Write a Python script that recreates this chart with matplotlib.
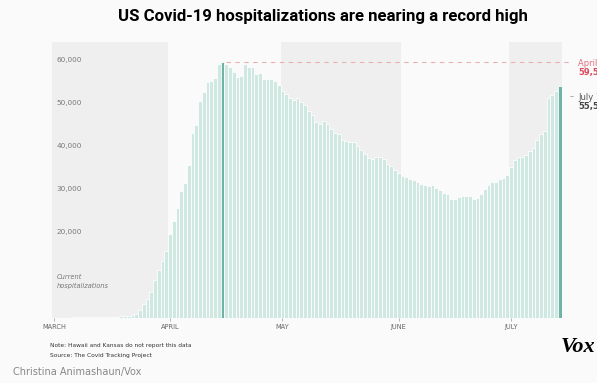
import matplotlib
matplotlib.use('Agg')
from matplotlib import pyplot as plt
from matplotlib import transforms

# current hospitalizations per day, March 1 to July 14
hospitalized = [
    0, 0, 0, 0, 0, 20, 30, 40, 50, 60, 70, 80, 100, 120, 140, 160, 190, 220, 260, 300,
    350, 550, 900, 1700, 3100, 4300, 6000, 8800, 11000, 13200,
    15600, 19500, 22500, 25500, 29500, 31300, 35500, 43100, 44900, 50500,
    52500, 54800, 55100, 55900, 59000, 59500, 59100, 58500, 57200, 56000,
    56400, 59200, 58500, 58300, 56800, 56900, 55600, 55600, 55600, 55100,
    54300, 52900, 52200, 51200, 50800, 51200, 50300, 49600, 48200, 47100,
    45500, 45100, 45700, 45000, 43900, 43000, 42800, 41300, 41200, 41000,
    40800, 40000, 39000, 38000, 37100, 37000, 37400, 37300, 36900, 35800,
    35200, 34400, 33700, 33100, 32800, 32300, 32000, 31600, 31100, 31000,
    30600, 30800, 30200, 29700, 29100, 28800, 27700, 27600, 28100, 28300,
    28400, 28300, 27600, 27800, 28800, 29900, 30900, 31500, 31700, 32200,
    32500, 33200, 35000, 36700, 37300, 37400, 37900, 38700, 39500, 41300,
    42700, 43500, 51200, 51900, 52700, 53900,
]
month_days = [0, 31, 61, 92, 122]
month_labels = ['MARCH', 'APRIL', 'MAY', 'JUNE', 'JULY']
y_ticks = [20000, 30000, 40000, 50000, 60000]
peak_day = 45
last_day = len(hospitalized) - 1

light = '#cfe8e2'
dark = '#6fb2a8'
grey = '#777777'

fig = plt.figure(figsize=(5.97, 3.83), dpi=100, facecolor='#fafafa')
ax = fig.add_axes([52 / 597, 1 - 317.5 / 383, 509.7 / 597, 275.5 / 383])
ax.set_facecolor('#fafafa')

# grey bands for every other month
for a, b in [(-0.5, 30.5), (60.5, 92.5), (121.5, 135.5)]:
    ax.axvspan(a, b, color='#efefef', lw=0, zorder=0)

colors = [light] * len(hospitalized)
colors[peak_day] = dark
colors[last_day] = dark
days = list(range(len(hospitalized)))
ax.bar(days, hospitalized, width=1.0, color=colors, edgecolor='white', linewidth=0.55, zorder=2)

# dashed line at the April record
ax.plot([peak_day + 0.8, 137.7], [hospitalized[peak_day]] * 2, ls=(0, (4, 4)), color='#eab0b6',
        lw=0.8, clip_on=False, zorder=3)

ax.set_xlim(-0.5, 135.5)
ax.set_ylim(0, 64220)
for s in ax.spines.values():
    s.set_visible(False)
ax.set_yticks([])
ax.set_xticks(month_days)
ax.set_xticklabels(month_labels, fontsize=4.8, color='#666666')
ax.tick_params(axis='x', length=2, width=0.5, color='#999999', pad=2.5)

trans = transforms.blended_transform_factory(ax.transAxes, ax.transData)
for v in y_ticks:
    ax.text(0.009, v, f'{v:,}', transform=trans, fontsize=5.2, color=grey, va='center', ha='left')
ax.text(0.009, 8400, 'Current\nhospitalizations', transform=trans, fontsize=4.8, color=grey,
        style='italic', va='center', ha='left', linespacing=1.4)

# labels on the right, cut off by the edge of the picture as in the original
fig.text(578 / 597, 1 - 63 / 383, 'April 15', fontsize=6, color='#e07080', va='center')
fig.text(578 / 597, 1 - 72.5 / 383, '59,539', fontsize=6, color='#d9485c', va='center', weight='bold')
fig.text(570 / 597, 1 - 97 / 383, '–', fontsize=6, color='#999999', va='center')
fig.text(578 / 597, 1 - 98 / 383, 'July 14', fontsize=6, color='#555555', va='center')
fig.text(578 / 597, 1 - 106 / 383, '55,544', fontsize=6, color='#444444', va='center', weight='bold')

fig.text(323 / 597, 1 - 16 / 383, 'US Covid-19 hospitalizations are nearing a record high',
         fontsize=12.1, weight='bold', ha='center', va='center',
         family=['Roboto', 'DejaVu Sans'])

fig.text(50 / 597, 1 - 345 / 383, 'Note: Hawaii and Kansas do not report this data',
         fontsize=4.2, color='#333333', va='center')
fig.text(50 / 597, 1 - 355 / 383, 'Source: The Covid Tracking Project',
         fontsize=4.2, color='#333333', va='center')
fig.text(595 / 597, 1 - 347 / 383, 'Vox', fontsize=16, weight='bold', style='italic',
         ha='right', va='center', family=['Liberation Serif', 'DejaVu Serif'])
fig.text(13 / 597, 1 - 372 / 383, 'Christina Animashaun/Vox', fontsize=7, color='#888888',
         va='center')

fig.savefig('out.png', dpi=100, facecolor=fig.get_facecolor())
